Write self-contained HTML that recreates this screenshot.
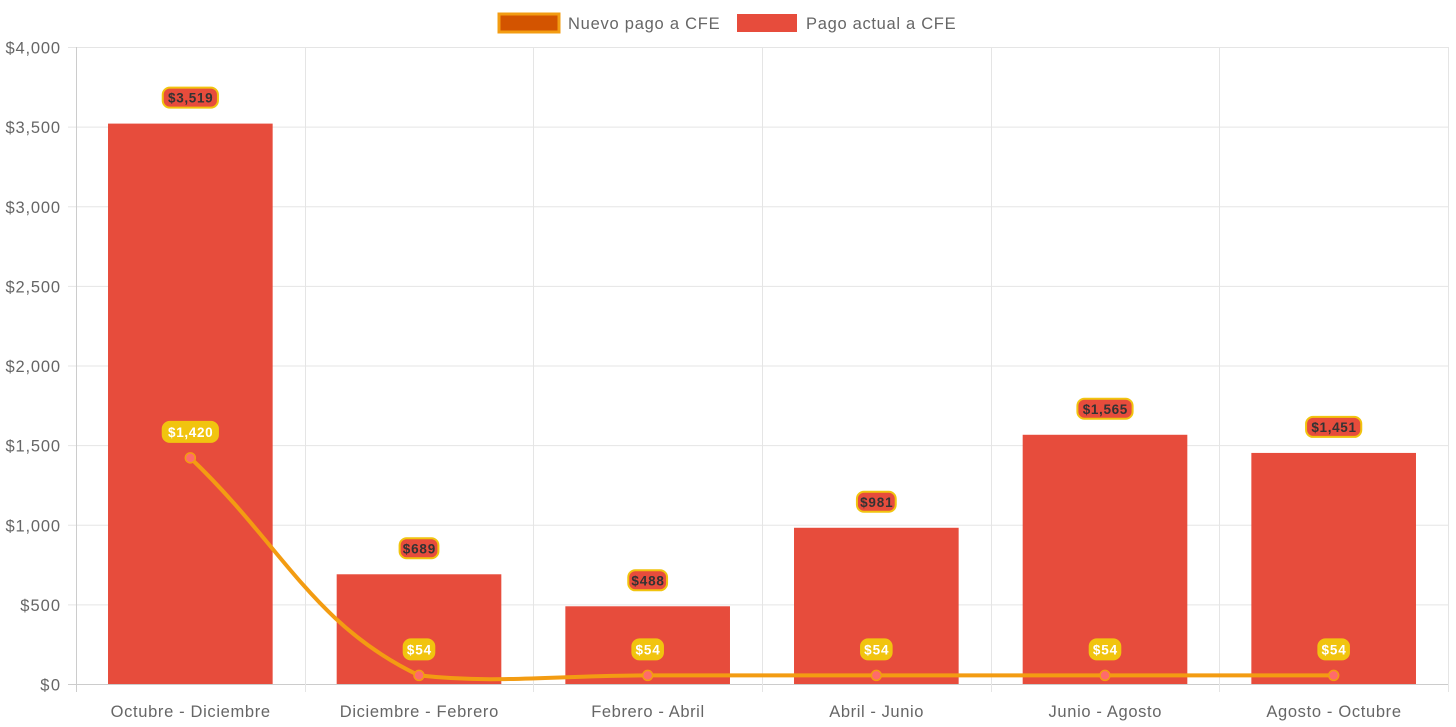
<!DOCTYPE html>
<html><head><meta charset="utf-8"><style>
body{margin:0;background:#fff;}
svg{display:block;font-family:"Liberation Sans",Arial,sans-serif;}
</style></head><body>
<svg id="chart" width="1456" height="727">
<g id="legend">
 <g>
  <rect x="499" y="14" width="60" height="18" fill="#d35400" stroke="#f39c12" stroke-width="3"/>
  <text x="568" y="29" font-size="16.5" fill="#666">Nuevo pago a CFE</text>
 </g>
 <g>
  <rect x="737" y="14" width="60" height="18" fill="#e74c3c"/>
  <text x="806" y="29" font-size="16.5" fill="#666">Pago actual a CFE</text>
 </g>
</g>
<g id="grid"></g><g id="bars"></g><g id="line"></g><g id="labels"></g>
</svg>
<script>
const categories=["Octubre - Diciembre","Diciembre - Febrero","Febrero - Abril","Abril - Junio","Junio - Agosto","Agosto - Octubre"];
const actualValues=[3519,689,488,981,1565,1451];
const nuevoValues=[1420,54,54,54,54,54];
const yTicks=[0,500,1000,1500,2000,2500,3000,3500,4000];
const NS="http://www.w3.org/2000/svg";
const L=76,R=1448,T=47,B=684,yMax=4000;
const cw=(R-L)/categories.length;
const x=i=>L+cw*(i+0.5);
const y=v=>B-(v/yMax)*(B-T);
const fmt=v=>"$"+v.toLocaleString("en-US");
function mk(tag,attrs,parent){const e=document.createElementNS(NS,tag);for(const k in attrs)e.setAttribute(k,attrs[k]);parent.appendChild(e);return e;}
const grid=document.getElementById("grid"),bars=document.getElementById("bars"),line=document.getElementById("line"),labels=document.getElementById("labels");
yTicks.forEach(t=>{
 const yy=y(t)+0.5;
 const g=mk("line",{x1:L-8,x2:R,y1:yy,y2:yy,stroke:t===0?"#ccc":"#e5e5e5","stroke-width":1},grid);
 
 
 const tx=mk("text",{x:L-16,y:yy+6,"text-anchor":"end","font-size":16.5,fill:"#666"},grid);
 tx.textContent=fmt(t);
 
 
});
for(let i=0;i<=categories.length;i++){
 const xx=Math.round(L+cw*i)+0.5;
 const g=mk("line",{x1:xx,x2:xx,y1:T,y2:B+8,stroke:i===0?"#ccc":"#e5e5e5","stroke-width":1},grid);
 
 
}
categories.forEach((c,i)=>{
 const tx=mk("text",{x:x(i),y:717,"text-anchor":"middle","font-size":16.5,fill:"#666"},grid);
 tx.textContent=c;
 
 
});
function label(cx,cy,text,bg,border,color){
 const w=text.length*8.2+6,h=20;
 const r=mk("rect",{x:cx-w/2,y:cy-h/2,width:w,height:h,rx:7,fill:bg,stroke:border,"stroke-width":2},labels);
 
 
 const t=mk("text",{x:cx,y:cy+5,"text-anchor":"middle","font-size":13.5,"font-weight":"bold",fill:color},labels);
 t.textContent=text;
 
 
}
const bw=cw*0.72;
actualValues.forEach((v,i)=>{
 const b=mk("rect",{x:x(i)-bw/2,y:y(v),width:bw,height:B-y(v),fill:"#e74c3c"},bars);
 
 
 label(x(i),y(v)-26,fmt(v),"#e74c3c","#f1c40f","#333");
});
const pts=nuevoValues.map((v,i)=>({x:x(i),y:y(v)}));
const tension=0.4;
const clampY=v=>Math.max(T,Math.min(B,v));
const cps=pts.map((p,i)=>{
 const prev=pts[i-1]||p,next=pts[i+1]||p;
 const d01=Math.hypot(p.x-prev.x,p.y-prev.y),d12=Math.hypot(next.x-p.x,next.y-p.y);
 let s01=d01/(d01+d12),s12=d12/(d01+d12);
 if(isNaN(s01))s01=0;if(isNaN(s12))s12=0;
 const fa=tension*s01,fb=tension*s12;
 return {px:p.x-fa*(next.x-prev.x),py:clampY(p.y-fa*(next.y-prev.y)),nx:p.x+fb*(next.x-prev.x),ny:clampY(p.y+fb*(next.y-prev.y))};
});
let d="M"+pts[0].x+","+pts[0].y;
for(let i=1;i<pts.length;i++){d+=" C"+cps[i-1].nx+","+cps[i-1].ny+" "+cps[i].px+","+cps[i].py+" "+pts[i].x+","+pts[i].y;}
const path=mk("path",{d:d,fill:"none",stroke:"#f39c12","stroke-width":4},line);


pts.forEach((p,i)=>{
 const c=mk("circle",{cx:p.x,cy:p.y,r:5,fill:"#ff6b6b",stroke:"#f39c12","stroke-width":1.5},line);
 
 
 label(p.x,p.y-26,fmt(nuevoValues[i]),"#f1c40f","#f1c40f","#fff");
});
document.querySelectorAll("text").forEach(t=>{
 const n=t.getComputedTextLength();
 t.setAttribute("textLength",(n*1.08).toFixed(1));
});
</script>
</body></html>
